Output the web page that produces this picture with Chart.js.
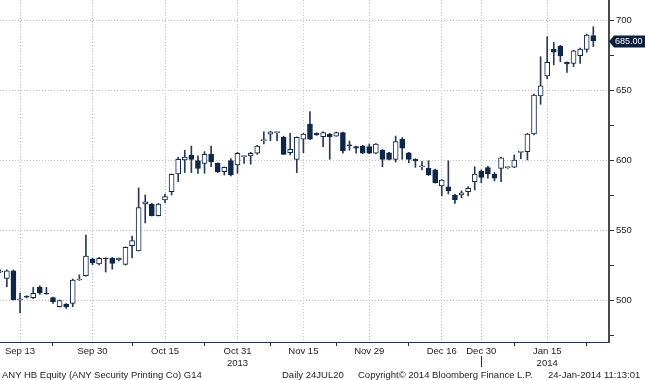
<!DOCTYPE html>
<html>
<head>
<meta charset="utf-8">
<title>ANY HB Equity</title>
<script src="https://cdn.jsdelivr.net/npm/chart.js@4.4.1/dist/chart.umd.min.js"></script>
<style>
  html, body { margin: 0; padding: 0; background: #fff; }
  #wrap { position: relative; width: 645px; height: 380px; overflow: hidden; }
  #chart { position: absolute; left: 0; top: 0; }
  .foot { position: absolute; top: 369px; line-height: 10px; font: 9.5px 'Liberation Sans', Arial, sans-serif; color: #222; white-space: nowrap; }
</style>
</head>
<body>
<div id="wrap">
  <canvas id="chart" width="645" height="380"></canvas>
  <div class="foot" style="left:2px">ANY HB Equity (ANY Security Printing Co) G14</div>
  <div class="foot" style="left:282px">Daily 24JUL20</div>
  <div class="foot" style="left:358px">Copyright© 2014 Bloomberg Finance L.P.</div>
  <div class="foot" style="left:548px">24-Jan-2014 11:13:01</div>
</div>
<script>
// trading days shown on the chart
var dates = [
  'Sep 10','Sep 11','Sep 12','Sep 13','Sep 16','Sep 17','Sep 18','Sep 19','Sep 20','Sep 23',
  'Sep 24','Sep 25','Sep 26','Sep 27','Sep 30','Oct 1','Oct 2','Oct 3','Oct 4','Oct 7',
  'Oct 8','Oct 9','Oct 10','Oct 11','Oct 14','Oct 15','Oct 16','Oct 17','Oct 18','Oct 21',
  'Oct 22','Oct 24','Oct 25','Oct 28','Oct 29','Oct 30','Oct 31','Nov 4','Nov 5','Nov 6',
  'Nov 7','Nov 8','Nov 11','Nov 12','Nov 13','Nov 14','Nov 15','Nov 18','Nov 19','Nov 20',
  'Nov 21','Nov 22','Nov 25','Nov 26','Nov 27','Nov 28','Nov 29','Dec 2','Dec 3','Dec 4',
  'Dec 5','Dec 6','Dec 9','Dec 10','Dec 11','Dec 12','Dec 13','Dec 16','Dec 17','Dec 18',
  'Dec 19','Dec 20','Dec 23','Dec 30','Jan 2','Jan 3','Jan 6','Jan 7','Jan 8','Jan 9',
  'Jan 10','Jan 13','Jan 14','Jan 15','Jan 16','Jan 17','Jan 20','Jan 21','Jan 22','Jan 23',
  'Jan 24'
];

var opens = [
  520, 515.5, 520.9, 500.2, 502.4, 501.7, 509, 504.8, 501.7, 495.2,
  497, 497.6, 514.3, 517.4, 529.3, 525.7, 529.8, 529.8, 528.8, 525.5,
  538.8, 535, 568.6, 568.6, 560.2, 571.4, 577.4, 590, 600, 603.6,
  599.5, 597.6, 604, 597.6, 591.7, 599.5, 596.4, 602.4, 603, 604.8,
  613.8, 618.4, 619.5, 616.2, 605.2, 600.5, 614.8, 625.7, 619, 616.6,
  618.6, 617.1, 619.5, 610.7, 609.5, 610, 609.5, 604.8, 607.1, 605.2,
  600.5, 614.8, 605.2, 600.5, 595.2, 594, 592.9, 581.4, 580.9, 575,
  575, 577.4, 584.5, 592, 594.5, 590, 594, 594.5, 594.8, 605.5,
  606, 618.6, 645.7, 660, 679, 681.4, 669.8, 669, 674.5, 679,
  688.8
];
var highs = [
  521.5, 521.5, 521.5, 505, 503, 509, 510.2, 509, 502, 500,
  497.5, 515, 518, 546.4, 530, 530.5, 530.2, 530.5, 530.2, 538,
  545.7, 580, 575, 569, 569, 575.6, 590, 602, 607, 610,
  603, 606, 610, 598, 595, 601, 605.5, 603, 605.5, 610.5,
  620.2, 620.5, 620, 617, 619, 616.5, 619, 634.5, 619.5, 620.2,
  619, 620, 620, 613.6, 610, 610.5, 611.5, 611.8, 607.5, 605.5,
  617.1, 616, 605.5, 601, 599, 599.5, 593.5, 586, 599.5, 575.5,
  578, 581, 595.2, 593, 595.5, 591, 602, 595, 603.6, 606,
  619, 647, 673.8, 688.1, 684, 682, 670.2, 678.5, 680, 690,
  695.2
];
var lows = [
  519.5, 509.5, 500, 490.7, 501.5, 501, 504, 504, 497.6, 495,
  494, 495.2, 514, 517, 525, 525, 520, 522, 528, 525,
  530, 535, 555, 560, 560, 569.5, 575, 584.5, 591, 591,
  590.5, 590.5, 595.2, 591, 589.3, 588.6, 590.5, 597.6, 597, 604,
  611.4, 613.8, 613.8, 604, 603.6, 591, 605.2, 614.5, 617.5, 609.5,
  600.5, 617, 604.8, 607, 604.8, 604.5, 604.5, 604.5, 595.2, 600,
  598.5, 600.5, 598, 594.8, 593, 589, 583.5, 574.3, 575.7, 569,
  573, 574.3, 578.6, 583.8, 587, 585, 584.5, 594, 594.5, 601,
  600, 618, 639.8, 658, 668, 670.2, 662.6, 666.7, 669, 677,
  681
];
var closes = [
  520.5, 520.9, 500.2, 500.8, 502, 504.8, 505, 504.3, 498.8, 499.5,
  495, 514.3, 514.8, 531.4, 526.5, 529.8, 529.3, 526.2, 529.8, 537.6,
  542.4, 566, 570.2, 560.2, 568.6, 573.8, 589.8, 600.5, 602, 600.5,
  594, 604, 598.8, 591.7, 594.8, 589.3, 604.8, 602.8, 604.8, 610,
  614.3, 620.2, 619.9, 604, 607.6, 616.2, 618.6, 614.8, 617.9, 619.5,
  616.6, 619.5, 606.4, 610.2, 608.5, 604.8, 604.8, 611.4, 600.5, 600.5,
  613.1, 608.4, 600.5, 599.3, 595.8, 589.3, 583.8, 585.7, 577.9, 571.4,
  576.5, 579.8, 590, 587.6, 590, 587, 601.6, 594.8, 600, 606,
  618.6, 646.4, 652.9, 669.8, 677, 674.3, 668.6, 677.9, 679.3, 689.3,
  685
];

// x axis labels
var tickDates = ['Sep 13', 'Sep 30', 'Oct 15', 'Oct 31', 'Nov 15', 'Nov 29', 'Dec 16', 'Dec 30', 'Jan 15'];
var tickYears = ['', '', '', '2013', '', '', '', '', '2014'];
var minorTickDates = ['Sep 20', 'Oct 8', 'Oct 24', 'Nov 8', 'Nov 22', 'Dec 9', 'Jan 8', 'Jan 23'];
var yearBreakDate = 'Dec 30';

// y axis ticks
var yMajor = [500, 550, 600, 650, 700];
var yMinor = [475, 525, 575, 625, 675];

var NAVY = '#0f2748';
var WICK = '#2b3a52';
var GRID = '#c2c2c2';

var majorIdx = tickDates.map(function (d) { return dates.indexOf(d); });
var minorIdx = minorTickDates.map(function (d) { return dates.indexOf(d); });

var bodies = opens.map(function (o, i) { return { x: i, y: [o, closes[i]] }; });
var wicks = lows.map(function (l, i) { return { x: i, y: [l, highs[i]] }; });
var bodyFill = opens.map(function (o, i) { return closes[i] >= o ? '#ffffff' : NAVY; });

var lastTag = {
  id: 'lastTag',
  afterDraw: function (chart) {
    var ctx = chart.ctx;
    var area = chart.chartArea;
    var x = chart.scales.x;
    var y = chart.scales.y;
    var last = closes[closes.length - 1];
    var py = Math.round(y.getPixelForValue(last)) + 0.5;
    var x0 = area.right;
    ctx.save();
    // price tag
    ctx.fillStyle = '#0b1f3d';
    ctx.beginPath();
    ctx.moveTo(x0, py);
    ctx.lineTo(x0 + 5, py - 6);
    ctx.lineTo(645, py - 6);
    ctx.lineTo(645, py + 6);
    ctx.lineTo(x0 + 5, py + 6);
    ctx.closePath();
    ctx.fill();
    ctx.fillStyle = '#ffffff';
    ctx.font = '9px "Liberation Sans", Arial, sans-serif';
    ctx.textBaseline = 'middle';
    ctx.textAlign = 'left';
    ctx.fillText(last.toFixed(2), x0 + 6, py + 0.5);
    // year divider under the x axis
    var bx = Math.round(x.getPixelForValue(dates.indexOf(yearBreakDate))) + 0.5;
    ctx.strokeStyle = '#333';
    ctx.lineWidth = 1;
    ctx.beginPath();
    ctx.moveTo(bx, 356);
    ctx.lineTo(bx, 367);
    ctx.stroke();
    ctx.restore();
  }
};

var ctx = document.getElementById('chart').getContext('2d');
new Chart(ctx, {
  type: 'bar',
  data: {
    datasets: [{
      label: 'body',
      data: bodies,
      backgroundColor: bodyFill,
      borderColor: NAVY,
      borderWidth: 1,
      borderSkipped: false,
      barThickness: 5,
      minBarLength: 1,
      grouped: false
    }, {
      label: 'wick',
      data: wicks,
      backgroundColor: WICK,
      borderWidth: 0,
      barThickness: 1,
      grouped: false
    }]
  },
  options: {
    responsive: false,
    animation: false,
    layout: { padding: 0 },
    plugins: {
      legend: { display: false },
      tooltip: { enabled: false }
    },
    scales: {
      x: {
        type: 'linear',
        offset: false,
        min: -0.04,
        max: 92.38,
        afterBuildTicks: function (scale) {
          var all = majorIdx.concat(minorIdx).sort(function (a, b) { return a - b; });
          scale.ticks = all.map(function (v) { return { value: v }; });
        },
        afterFit: function (scale) {
          scale.height = 38;
          scale.paddingLeft = 0;
          scale.paddingRight = 0;
        },
        ticks: {
          autoSkip: false,
          maxRotation: 0,
          padding: 0,
          color: '#222',
          font: { family: "'Liberation Sans', Arial, sans-serif", size: 9.5, lineHeight: 1.2 },
          callback: function (v) {
            var k = majorIdx.indexOf(v);
            if (k < 0) return '';
            return tickYears[k] ? [tickDates[k], tickYears[k]] : tickDates[k];
          }
        },
        grid: {
          offset: false,
          lineWidth: 1,
          tickLength: 4,
          color: function (c) {
            return c.tick && majorIdx.indexOf(c.tick.value) >= 0 ? GRID : 'rgba(0,0,0,0)';
          },
          tickColor: function (c) {
            return c.tick && majorIdx.indexOf(c.tick.value) >= 0 ? 'rgba(0,0,0,0)' : '#333';
          }
        },
        border: { display: true, color: '#23344f', width: 1, dash: [1, 2] }
      },
      y: {
        position: 'right',
        min: 470,
        max: 714.29,
        afterBuildTicks: function (scale) {
          var all = yMajor.concat(yMinor).sort(function (a, b) { return a - b; });
          scale.ticks = all.map(function (v) { return { value: v }; });
        },
        afterFit: function (scale) {
          scale.width = 36;
          scale.paddingTop = 0;
          scale.paddingBottom = 0;
        },
        ticks: {
          padding: 2,
          color: '#222',
          font: { family: "'Liberation Sans', Arial, sans-serif", size: 9.5 },
          callback: function (v) { return yMajor.indexOf(v) >= 0 ? String(v) : ''; }
        },
        grid: {
          lineWidth: 1,
          tickLength: 5,
          color: function (c) {
            return c.tick && yMajor.indexOf(c.tick.value) >= 0 ? GRID : 'rgba(0,0,0,0)';
          },
          tickColor: '#333'
        },
        border: { display: true, color: '#4a4a4a', width: 2, dash: [1, 2] }
      }
    }
  },
  plugins: [lastTag]
});
</script>
</body>
</html>
